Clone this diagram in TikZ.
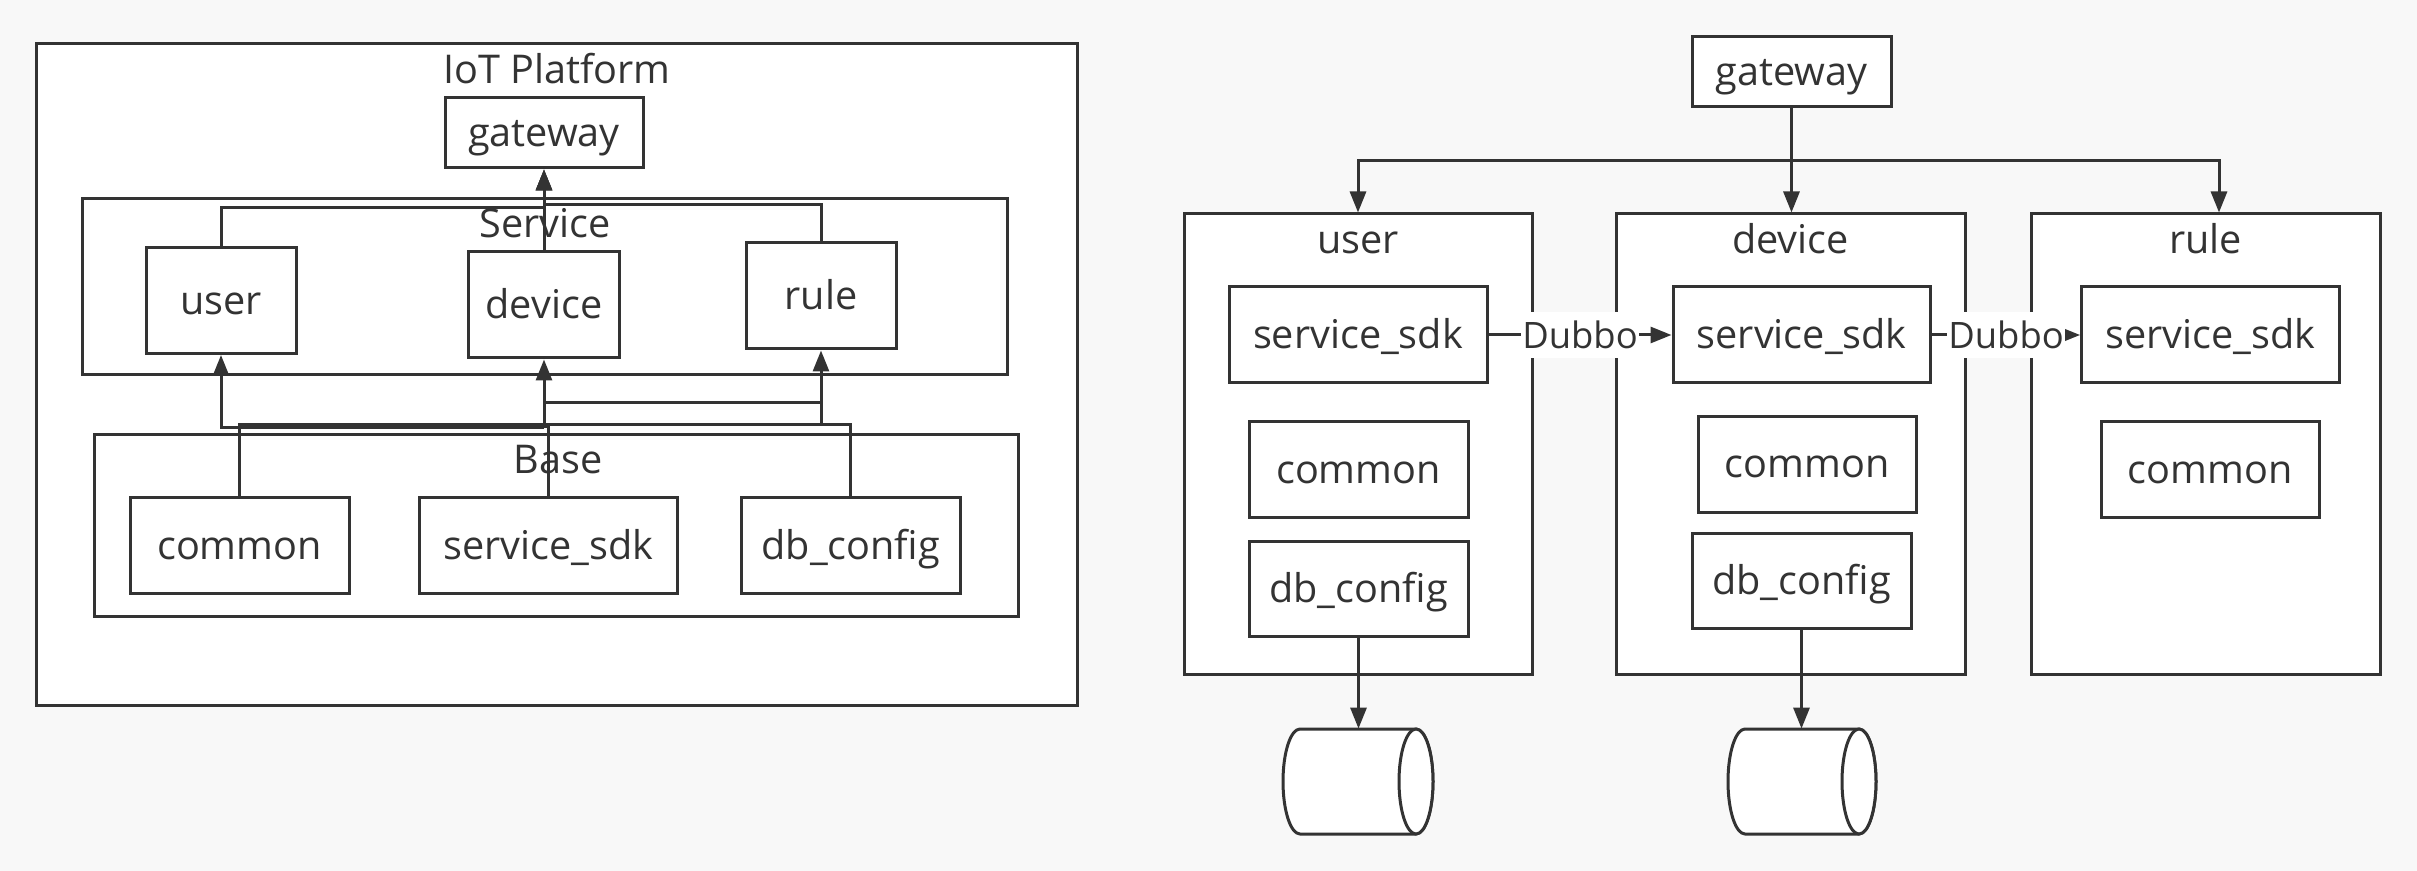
\documentclass[tikz,border=0pt]{standalone}
\usepackage{fontspec}
\setmainfont{Open Sans}
\usetikzlibrary{arrows.meta}
\definecolor{lc}{HTML}{333333}
\definecolor{bg}{HTML}{F8F8F8}
\begin{document}
\begin{tikzpicture}[x=0.5pt, y=-0.5pt,
  box/.style={draw=lc, fill=white, line width=1.5pt, inner sep=0pt, text=lc,
    font=\fontsize{19.8}{23}\selectfont, text height=13.5pt, text depth=0pt},
  lbl/.style={text=lc, font=\fontsize{19.8}{23}\selectfont, anchor=base, inner sep=0pt},
  conn/.style={draw=lc, line width=1.5pt},
  arr/.style={conn, -{Triangle[length=10.5pt, width=8pt]}},
  dub/.style={fill=white, text=lc, font=\fontsize{18.2}{21}\selectfont, inner xsep=0.5pt,
    inner ysep=0pt, minimum height=23pt, text height=13.3pt, text depth=0pt},
  cyl/.style={draw=lc, fill=white, line width=1.5pt},
]
\useasboundingbox (0,0) rectangle (2417,871);
\fill[bg] (0,0) rectangle (2417,871);

% ---------------- left diagram ----------------
\node[box, minimum width=520.25pt, minimum height=331.05pt] (iot) at (556.75,374.65) {};
\node[lbl] (iotl) at (557,84) {IoT Platform};
\node[box, minimum width=99pt, minimum height=35.1pt] (gwL) at (544,132.9) {gateway};
\node[box, minimum width=462.5pt, minimum height=88pt] (svc) at (544.5,287) {};
\node[lbl] (svcl) at (545,238) {Service};
\node[box, minimum width=75pt, minimum height=52.75pt] (userL) at (221,300.75) {user};
\node[box, minimum width=75.4pt, minimum height=53pt] (devL) at (544,305) {device};
\node[box, minimum width=75pt, minimum height=53pt] (ruleL) at (821,296) {rule};
\node[box, minimum width=462pt, minimum height=91pt] (base) at (556.65,526) {};
\node[lbl] (basel) at (558,474) {Base};
\node[box, minimum width=109.5pt, minimum height=48pt] (comL) at (239.5,546) {common};
\node[box, minimum width=129.1pt, minimum height=48pt] (sdkL) at (548.6,546) {service\_sdk};
\node[box, minimum width=109.25pt, minimum height=48pt] (dbL) at (850.75,546) {db\_config};

\draw[arr] (devL.north) -- (gwL.south);
\draw[arr] (userL.north) |- (gwL.south |- 0,208) -- (gwL.south);
\draw[arr] (ruleL.north) |- (gwL.south |- 0,205) -- (gwL.south);

\draw[conn] (comL.north) |- (dbL.north |- 0,424.5) -- (dbL.north);
\draw[arr] (devL.south |- 0,427.5) -| (userL.south);
\draw[arr] (sdkL.north) -- (sdkL.north |- 0,427) -- (devL.south |- 0,427) -- (devL.south);
\draw[arr] (ruleL.south |- 0,424.5) -- (ruleL.south);
\draw[conn] (devL.south |- 0,403) -- (ruleL.south |- 0,403);

% ---------------- right diagram ----------------
\node[box, minimum width=99.5pt, minimum height=35pt] (gwR) at (1791.5,72) {gateway};
\node[box, minimum width=174pt, minimum height=230.5pt] (uR) at (1358,444.5) {};
\node[box, minimum width=174.5pt, minimum height=230.5pt] (dR) at (1790.5,444.5) {};
\node[box, minimum width=174.5pt, minimum height=230.5pt] (rR) at (2205.5,444.5) {};
\node[lbl] (uRl) at (1358,254) {user};
\node[lbl] (dRl) at (1790.5,254) {device};
\node[lbl] (rRl) at (2205.5,254) {rule};

\node[box, minimum width=129pt, minimum height=48pt] (usdk) at (1358,335) {service\_sdk};
\node[box, minimum width=109.5pt, minimum height=48pt] (ucom) at (1358.5,470) {common};
\node[box, minimum width=109.5pt, minimum height=47.5pt] (udb) at (1358.5,589) {db\_config};
\node[box, minimum width=128.75pt, minimum height=48pt] (dsdk) at (1801.75,335) {service\_sdk};
\node[box, minimum width=109pt, minimum height=47.75pt] (dcom) at (1807,464.3) {common};
\node[box, minimum width=109.5pt, minimum height=47.5pt] (ddb) at (1801.5,581.5) {db\_config};
\node[box, minimum width=128.9pt, minimum height=48pt] (rsdk) at (2210.5,335) {service\_sdk};
\node[box, minimum width=109pt, minimum height=48pt] (rcom) at (2210,470) {common};

% cylinders
\node[inner sep=0pt, minimum width=75pt, minimum height=52.5pt] (ucyl) at (1358,781.5) {};
\node[inner sep=0pt, minimum width=74pt, minimum height=52.5pt] (dcyl) at (1802,781.5) {};
\filldraw[cyl] (1300,729) -- (1416,729) arc[start angle=-90, end angle=90, x radius=17, y radius=52.5]
  -- (1300,834) arc[start angle=90, end angle=270, x radius=17, y radius=52.5] -- cycle;
\draw[cyl] (1416,781.5) ellipse [x radius=17, y radius=52.5];
\filldraw[cyl] (1745,729) -- (1859,729) arc[start angle=-90, end angle=90, x radius=17, y radius=52.5]
  -- (1745,834) arc[start angle=90, end angle=270, x radius=17, y radius=52.5] -- cycle;
\draw[cyl] (1859,781.5) ellipse [x radius=17, y radius=52.5];

\coordinate (hub) at (1791.5,161);
\draw[arr] (gwR.south) -- (gwR.south |- dR.north);
\draw[arr] (hub) -| (uR.north);
\draw[arr] (hub) -| ([xshift=6.75pt]rR.north);

\draw[arr] (usdk.east) -- node[dub] (dub1) {Dubbo} (dsdk.west);
\draw[arr] (dsdk.east) -- node[dub] (dub2) {Dubbo} (rsdk.west);

\draw[arr] (udb.south) -- (udb.south |- ucyl.north);
\draw[arr] (ddb.south) -- (ddb.south |- dcyl.north);
\end{tikzpicture}
\end{document}
